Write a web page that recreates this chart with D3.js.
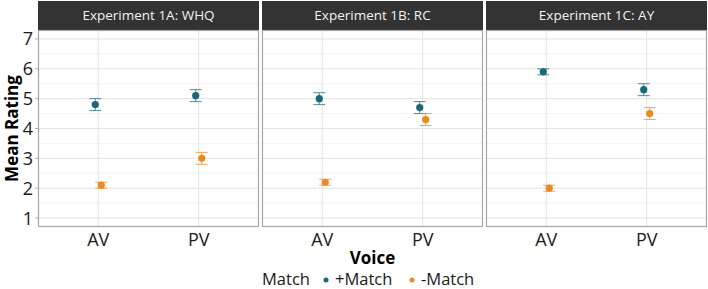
<!DOCTYPE html>
<meta charset="utf-8">
<script src="https://d3js.org/d3.v7.min.js"></script>
<style>
  body { margin: 0; background: #fff; }
  text { font-family: "Open Sans", "Noto Sans", sans-serif; }
</style>
<div id="chart"></div>
<script>
// data
var panels = ["Experiment 1A: WHQ", "Experiment 1B: RC", "Experiment 1C: AY"];
var voices = ["AV", "PV"];
var matches = ["+Match", "-Match"];
// mean, lower, upper per panel, per voice
var plusMean  = [[4.8, 5.1], [5.0, 4.7], [5.9, 5.3]];
var plusLo    = [[4.6, 4.9], [4.8, 4.5], [5.8, 5.1]];
var plusHi    = [[5.0, 5.3], [5.2, 4.9], [6.0, 5.5]];
var minusMean = [[2.1, 3.0], [2.2, 4.3], [2.0, 4.5]];
var minusLo   = [[2.0, 2.8], [2.1, 4.1], [1.9, 4.3]];
var minusHi   = [[2.2, 3.2], [2.3, 4.5], [2.1, 4.7]];
var yTicks = [1, 2, 3, 4, 5, 6, 7];
var colors = {"+Match": "#1b6878", "-Match": "#e98b22"};

var W = 708, H = 289;
var svg = d3.select("#chart").append("svg").attr("width", W).attr("height", H);

var panelX = [38, 262, 486], panelW = 221;
var stripTop = 1, stripH = 29, plotTop = 30, plotBottom = 227;

var y = d3.scaleLinear().domain([0.7, 7.3]).range([plotBottom, plotTop]);
var dodge = {"+Match": -3, "-Match": 3};

// build rows
var rows = [];
panels.forEach(function(p, i) {
  voices.forEach(function(v, j) {
    rows.push({panel: i, voice: v, match: "+Match", mean: plusMean[i][j], lo: plusLo[i][j], hi: plusHi[i][j]});
    rows.push({panel: i, voice: v, match: "-Match", mean: minusMean[i][j], lo: minusLo[i][j], hi: minusHi[i][j]});
  });
});

panels.forEach(function(p, i) {
  var x = d3.scalePoint().domain(voices).range([0, panelW]).padding(0.6);
  var g = svg.append("g").attr("transform", "translate(" + panelX[i] + ",0)");

  // strip
  g.append("rect").attr("x", 0).attr("y", stripTop).attr("width", panelW).attr("height", stripH)
    .attr("fill", "#333333");
  g.append("text").attr("x", panelW / 2).attr("y", stripTop + stripH / 2 + 1)
    .attr("text-anchor", "middle").attr("dominant-baseline", "middle")
    .attr("fill", "#f2f2f2").style("font-size", "13.5px").text(p);

  // grid
  g.selectAll(".minor").data(d3.range(1.5, 7.5, 1)).enter().append("line")
    .attr("x1", 0).attr("x2", panelW).attr("y1", d => y(d)).attr("y2", d => y(d))
    .attr("stroke", "#f0f0f0").attr("stroke-width", 0.8);
  g.selectAll(".major").data(yTicks).enter().append("line")
    .attr("x1", 0).attr("x2", panelW).attr("y1", d => y(d)).attr("y2", d => y(d))
    .attr("stroke", "#e3e3e3").attr("stroke-width", 1);
  g.selectAll(".vgrid").data(voices).enter().append("line")
    .attr("x1", d => x(d)).attr("x2", d => x(d)).attr("y1", plotTop).attr("y2", plotBottom)
    .attr("stroke", "#e3e3e3").attr("stroke-width", 1);

  // border
  g.append("rect").attr("x", 0.5).attr("y", plotTop + 0.5).attr("width", panelW - 1).attr("height", plotBottom - plotTop - 1)
    .attr("fill", "none").attr("stroke", "#a6a6a6").attr("stroke-width", 1.2);

  // x axis labels
  g.selectAll(".xl").data(voices).enter().append("text")
    .attr("x", d => x(d)).attr("y", 246).attr("text-anchor", "middle")
    .attr("fill", "#1a1a1a").style("font-size", "18px").text(d => d);

  var data = rows.filter(r => r.panel === i);
  var pts = g.append("g");
  pts.selectAll(".eb").data(data).enter().append("line")
    .attr("x1", d => x(d.voice) + dodge[d.match]).attr("x2", d => x(d.voice) + dodge[d.match])
    .attr("y1", d => y(d.lo)).attr("y2", d => y(d.hi))
    .attr("stroke", d => colors[d.match]).attr("stroke-width", 1).attr("opacity", 0.75);
  ["lo", "hi"].forEach(function(k) {
    pts.selectAll(".cap" + k).data(data).enter().append("line")
      .attr("x1", d => x(d.voice) + dodge[d.match] - 6).attr("x2", d => x(d.voice) + dodge[d.match] + 6)
      .attr("y1", d => y(d[k])).attr("y2", d => y(d[k]))
      .attr("stroke", d => colors[d.match]).attr("stroke-width", 1).attr("opacity", 0.75);
  });
  pts.selectAll(".pt").data(data).enter().append("circle")
    .attr("cx", d => x(d.voice) + dodge[d.match]).attr("cy", d => y(d.mean)).attr("r", 3.6)
    .attr("fill", d => colors[d.match]);
});

// y axis
var ya = svg.append("g");
ya.selectAll(".yt").data(yTicks).enter().append("line")
  .attr("x1", 35).attr("x2", 38).attr("y1", d => y(d)).attr("y2", d => y(d))
  .attr("stroke", "#b3b3b3");
ya.selectAll(".yl").data(yTicks).enter().append("text")
  .attr("x", 33).attr("y", d => y(d)).attr("dy", "0.36em").attr("text-anchor", "end")
  .attr("fill", "#1a1a1a").style("font-size", "18px").text(d => d);

svg.append("text").attr("transform", "translate(18," + ((plotTop + plotBottom) / 2) + ") rotate(-90)")
  .attr("text-anchor", "middle").style("font-size", "17px").style("font-weight", "bold")
  .attr("fill", "#000").text("Mean Rating");

svg.append("text").attr("x", 372.5).attr("y", 264).attr("text-anchor", "middle")
  .style("font-size", "17px").style("font-weight", "bold").attr("fill", "#000").text("Voice");

// legend
var lg = svg.append("g");
lg.append("text").attr("x", 262).attr("y", 285).style("font-size", "16.5px").attr("fill", "#1a1a1a").text("Match");
var legX = {"+Match": 326, "-Match": 412};
matches.forEach(function(m) {
  lg.append("circle").attr("cx", legX[m]).attr("cy", 280).attr("r", 2.5).attr("fill", colors[m]);
  lg.append("text").attr("x", legX[m] + 9).attr("y", 285).style("font-size", "16.5px").attr("fill", "#1a1a1a").text(m);
});
</script>
